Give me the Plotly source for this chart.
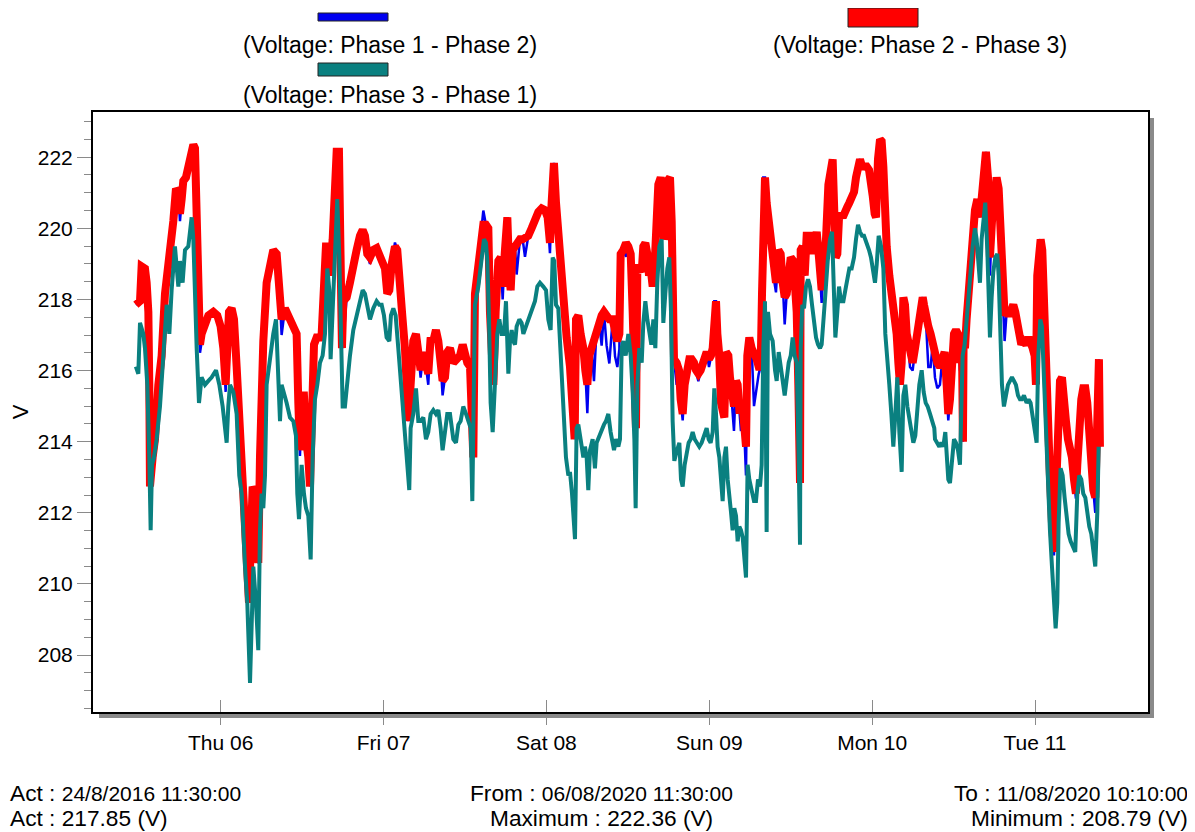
import plotly.graph_objects as go
import pandas as pd

# ---------------- data ----------------
START = pd.Timestamp("2020-08-05 11:30")

series_names = ["(Voltage: Phase 1 - Phase 2)",
                "(Voltage: Phase 2 - Phase 3)",
                "(Voltage: Phase 3 - Phase 1)"]
series_colors = ["#0000F0", "#FF0000", "#0A8080"]

# hours after START, shared by phase 1-2 (blue) and phase 2-3 (red)
red_hours = [
 0.0, 0.61, 0.85, 1.34, 1.59, 1.84, 1.98, 2.08, 2.47, 2.82,
 3.31, 3.8, 4.29, 4.64, 5.03, 5.52, 5.91, 6.26, 6.5, 6.75,
 6.99, 7.38, 7.73, 8.12, 8.47, 8.71, 8.96, 9.2, 9.45, 9.69,
 10.19, 10.68, 11.41, 12.0, 12.49, 12.89, 13.23, 13.48, 13.72, 14.11,
 14.46, 14.85, 15.24, 15.59, 15.93, 16.32, 16.67, 16.91, 17.21, 17.55,
 17.8, 18.04, 18.29, 18.44, 18.78, 19.27, 19.76, 20.25, 20.75, 21.14,
 21.48, 21.97, 22.46,
 23.2, 23.69, 23.94, 24.18, 24.53, 24.77, 25.07, 25.41, 25.66, 25.9,
 26.25, 26.64, 27.13, 27.38, 27.72, 28.01, 28.36, 28.6, 29.0, 29.34,
 29.59, 29.93, 30.08, 30.22, 30.37, 30.57, 31.06, 31.55, 32.04, 32.53,
 33.02, 33.42, 33.76, 34.1, 34.5, 34.99, 35.48, 35.87, 36.36, 36.71,
 37.05, 37.35, 37.69, 38.18, 38.52, 38.92, 39.26, 39.65, 39.9, 40.15,
 40.49, 40.88, 41.28, 41.62, 41.96, 42.36, 42.75, 43.09, 43.44, 43.83,
 44.22, 44.57, 44.91, 45.2, 45.55, 45.89, 46.29,
 46.78, 47.27, 47.76, 48.16, 48.5, 48.84, 49.24, 49.48, 49.73, 49.97,
 50.46, 50.96, 51.2, 51.59, 51.94, 52.18, 52.43, 52.68, 53.02, 53.41,
 53.76, 54.05, 54.39, 54.74, 55.03, 55.23, 55.52, 55.87, 56.11, 56.6,
 57.0, 57.34, 57.83, 58.32, 58.81, 59.31, 59.8, 60.29, 60.68, 61.02,
 61.27, 61.61, 61.91, 62.1, 62.5, 62.99, 63.48, 63.97, 64.36, 64.66,
 64.86, 65.2, 65.54, 65.94, 66.23, 66.53, 66.82, 67.16, 67.51, 67.9,
 68.29, 68.64, 68.98, 69.37, 69.77,
 70.26, 70.61, 70.95, 71.25, 71.44, 71.83, 72.23, 72.57, 72.92, 73.21,
 73.41, 73.7, 73.9, 74.19, 74.54, 74.78, 75.08, 75.37, 75.62, 75.86,
 76.16, 76.45, 76.75, 76.99, 77.34, 77.63, 77.83, 78.07, 78.32, 78.71,
 78.96, 79.1, 79.3, 79.69, 80.04, 80.28, 80.58, 80.87, 81.17, 81.56,
 81.9, 82.25, 82.54, 82.89, 83.23, 83.52, 83.82, 84.11, 84.46, 84.75,
 85.0, 85.24, 85.49, 85.69, 85.93, 86.23, 86.47, 86.72, 86.96, 87.31,
 87.55, 87.85, 88.14, 88.44, 88.68, 88.93, 89.17, 89.42, 89.66, 89.91,
 90.1, 90.4, 90.74, 91.09, 91.48, 91.78, 92.07, 92.27, 92.46, 92.71,
 92.95, 93.25, 93.54, 93.94,
 94.33, 94.68, 95.02, 95.32, 95.61, 95.91, 96.15, 96.5, 96.89, 97.18,
 97.38, 97.62, 97.77, 97.87, 97.97, 98.26, 98.56, 98.85, 99.25, 99.59,
 99.84, 100.08, 100.33, 100.57, 100.82, 101.06, 101.31, 101.7, 102.05, 102.39,
 102.68, 102.88, 103.13, 103.37, 103.62, 103.86, 104.16, 104.5, 104.85, 105.14,
 105.48, 105.83, 106.12, 106.37, 106.71, 107.01, 107.35, 107.69, 108.04, 108.33,
 108.58, 108.87, 109.07, 109.36, 109.66, 109.9, 110.15, 110.39, 110.64, 111.03,
 111.38, 111.62, 111.87, 112.11, 112.36, 112.6, 112.85, 113.1, 113.34, 113.59,
 113.83, 114.08, 114.47, 114.82, 115.06, 115.31, 115.65, 115.95, 116.14, 116.44,
 116.78, 117.12,
 117.41, 117.76, 118.1, 118.49, 118.89, 119.18, 119.48, 119.72, 119.97, 120.26,
 120.56, 120.85, 121.15, 121.44, 121.74, 121.88, 121.98, 122.18, 122.42, 122.72,
 123.01, 123.31, 123.65, 124.0, 124.29, 124.63, 124.98, 125.27, 125.57, 125.86,
 126.16, 126.45, 126.84, 127.14, 127.43, 127.73, 128.02, 128.32, 128.61, 128.91,
 129.3, 129.59, 129.89, 130.18, 130.48, 130.77, 131.17, 131.56, 131.85, 132.15,
 132.44, 132.64, 132.83, 133.08, 133.33, 133.57, 133.82, 134.11, 134.41, 134.7,
 135.0, 135.29, 135.59, 135.88, 136.18, 136.47, 136.76, 137.06, 137.35, 137.65,
 137.94, 138.24, 138.53, 138.73, 139.02, 139.32, 139.61, 139.91, 140.2, 140.5,
 140.79, 141.09, 141.38, 141.68, 141.92, 142.07,
]

red_volts = [
 217.85, 217.95, 218.93, 218.87, 218.47, 217.65, 215.6, 212.74, 213.56, 214.07,
 215.6, 216.42, 218.16, 218.98, 219.39, 220.2, 221.12, 221.02, 220.41, 220.82,
 221.33, 221.43, 221.74, 222.15, 222.35, 222.25, 220.2, 217.85, 216.73, 217.03,
 217.24, 217.55, 217.65, 217.55, 217.24, 216.63, 215.6, 216.42, 217.65, 217.75,
 217.44, 216.11, 214.58, 213.05, 211.51, 210.49, 209.47, 211.0, 212.74, 212.54,
 210.69, 210.59, 213.56, 215.09, 216.83, 218.47, 219.08, 219.39, 219.28, 218.47,
 217.44, 217.75, 217.55,
 217.24, 217.03, 215.09, 213.76, 215.3, 215.3, 214.07, 213.56, 212.74, 214.58,
 216.73, 216.93, 216.93, 217.03, 218.16, 219.49, 219.49, 218.67, 219.69, 221.53,
 222.15, 222.15, 220.72, 218.67, 216.63, 217.95, 218.06, 218.47, 219.08, 219.39,
 219.79, 219.95, 219.79, 219.28, 219.18, 219.39, 219.44, 219.28, 219.08, 218.87,
 218.16, 218.26, 218.98, 219.49, 219.39, 218.67, 217.55, 216.63, 215.6, 214.58,
 215.6, 216.83, 217.03, 216.52, 216.01, 216.52, 216.11, 215.91, 216.93, 216.83,
 217.14, 216.83, 216.22, 215.71, 215.81, 216.52, 216.63,
 216.22, 216.32, 216.42, 216.73, 216.42, 216.22, 216.11, 214.07, 213.56, 218.16,
 219.08, 219.9, 220.1, 220.1, 220.0, 217.65, 216.01, 215.6, 217.65, 219.08,
 219.18, 218.36, 219.39, 220.31, 218.67, 218.26, 219.39, 219.49, 219.59, 219.69,
 219.69, 219.74, 219.79, 220.0, 220.31, 220.46, 220.56, 220.51, 220.31, 219.59,
 220.72, 221.84, 220.72, 220.2, 219.18, 218.16, 216.93, 216.11, 214.78, 214.07,
 217.44, 217.55, 217.03, 216.63, 216.01, 215.6, 216.42, 216.63, 217.03, 217.24,
 217.34, 217.55, 217.65, 217.55, 217.44,
 217.44, 217.03, 216.83, 217.03, 219.28, 219.39, 219.59, 219.49, 219.28, 217.65,
 215.6, 214.38, 218.98, 218.87, 218.77, 219.49, 219.59, 219.28, 218.67, 218.87,
 218.36, 218.98, 220.2, 221.23, 221.43, 221.12, 219.69, 219.9, 221.33, 221.43,
 220.2, 218.16, 216.32, 216.22, 216.01, 215.19, 214.78, 215.6, 216.01, 216.32,
 216.32, 216.22, 216.01, 215.91, 216.01, 216.22, 216.32, 216.52, 216.32, 216.42,
 216.63, 217.95, 217.95, 217.03, 216.52, 215.09, 214.78, 214.68, 216.52, 216.42,
 215.81, 215.19, 214.99, 215.71, 215.6, 214.89, 214.89, 214.99, 214.27, 213.86,
 216.42, 216.93, 216.63, 216.52, 216.32, 216.11, 216.11, 218.16, 221.43, 221.43,
 220.72, 220.2, 219.79, 218.67,
 218.47, 219.39, 219.28, 218.47, 218.06, 218.16, 218.87, 219.18, 219.08, 218.47,
 217.65, 215.6, 212.84, 212.84, 219.39, 219.49, 218.67, 219.79, 219.79, 219.79,
 219.28, 219.69, 219.9, 219.39, 218.67, 218.26, 218.87, 219.69, 221.23, 221.64,
 221.94, 220.72, 219.18, 219.28, 220.31, 220.41, 220.31, 220.41, 220.61, 220.72,
 220.82, 221.02, 221.43, 221.84, 221.94, 221.74, 221.74, 221.74, 221.64, 221.33,
 220.92, 220.41, 220.31, 221.94, 222.5, 222.45, 221.74, 220.41, 219.49, 218.67,
 218.16, 217.65, 217.44, 217.03, 216.22, 215.6, 216.22, 218.06, 217.85, 217.03,
 216.73, 216.42, 216.22, 216.63, 217.03, 217.44, 217.95, 218.06, 217.85, 217.34,
 217.24, 217.03,
 216.73, 216.42, 216.22, 216.11, 216.42, 216.52, 215.6, 214.78, 215.19, 216.42,
 217.03, 217.14, 217.03, 216.22, 216.63, 214.0, 217.03, 216.63, 217.44, 218.26,
 218.87, 219.69, 220.51, 220.82, 220.31, 220.82, 221.53, 222.15, 221.43, 219.18,
 220.2, 220.92, 221.43, 221.12, 219.39, 218.16, 217.55, 217.65, 217.55, 217.65,
 217.85, 217.65, 217.34, 216.83, 216.73, 216.83, 216.73, 216.93, 216.83, 216.63,
 216.42, 215.6, 218.67, 219.59, 219.69, 219.39, 217.65, 216.22, 214.58, 213.05,
 211.72, 210.9, 212.54, 214.78, 215.71, 215.81, 215.4, 214.58, 214.07, 213.86,
 213.56, 212.94, 212.54, 213.35, 214.58, 215.19, 215.5, 215.5, 215.09, 214.07,
 213.25, 212.64, 212.43, 214.58, 216.32, 213.86,
]

blue_volts = [
 217.85, 217.95, 219.0, 218.87, 218.47, 217.65, 215.6, 212.74, 213.56, 214.07,
 215.6, 216.42, 218.16, 218.98, 219.39, 220.2, 221.12, 221.02, 220.2, 220.82,
 221.33, 221.43, 221.74, 222.15, 222.35, 222.25, 220.2, 217.85, 216.5, 216.8,
 217.24, 217.55, 217.65, 217.55, 217.24, 216.63, 215.4, 216.42, 217.65, 217.75,
 217.44, 216.11, 214.58, 213.05, 211.51, 210.49, 209.47, 211.0, 212.74, 212.54,
 210.69, 210.59, 213.56, 214.3, 215.8, 218.47, 219.08, 219.39, 219.28, 218.3,
 217.0, 217.75, 217.55,
 217.24, 217.03, 215.09, 213.6, 215.3, 215.3, 214.07, 213.56, 212.74, 214.58,
 216.73, 216.93, 216.93, 217.03, 218.16, 219.49, 219.49, 218.67, 219.69, 221.53,
 222.15, 222.15, 220.72, 218.67, 216.63, 216.8, 218.06, 218.47, 219.08, 219.39,
 219.79, 219.95, 219.79, 219.28, 219.0, 219.39, 219.44, 219.28, 219.08, 218.87,
 218.16, 218.26, 218.98, 219.6, 219.39, 218.67, 217.55, 216.63, 215.6, 214.58,
 215.6, 216.83, 217.03, 216.52, 215.8, 216.52, 216.11, 215.6, 216.93, 216.83,
 217.14, 216.83, 216.22, 215.3, 215.81, 216.52, 216.3,
 216.22, 216.32, 216.42, 216.73, 216.42, 216.22, 216.0, 214.07, 213.56, 218.16,
 219.08, 219.9, 220.5, 220.1, 220.0, 217.65, 216.01, 215.6, 217.65, 219.08,
 219.18, 218.0, 219.39, 220.31, 218.67, 218.26, 219.39, 219.49, 218.7, 219.69,
 219.69, 219.2, 219.79, 220.0, 220.31, 220.46, 220.56, 220.51, 220.31, 219.3,
 220.72, 221.84, 220.72, 220.2, 219.18, 218.16, 216.93, 216.11, 214.78, 214.07,
 217.44, 217.55, 217.03, 216.63, 216.01, 214.8, 216.42, 216.63, 215.7, 217.24,
 217.34, 216.7, 217.65, 216.7, 216.2,
 217.44, 216.4, 216.1, 216.6, 219.28, 219.39, 219.2, 219.49, 219.28, 217.65,
 215.6, 214.38, 218.98, 218.87, 218.77, 219.49, 219.59, 219.28, 218.67, 218.87,
 218.36, 218.98, 220.2, 221.23, 221.43, 221.12, 219.69, 219.9, 221.33, 221.43,
 220.2, 218.16, 216.32, 215.6, 216.01, 215.19, 214.6, 215.6, 216.01, 216.32,
 216.32, 216.22, 216.01, 215.7, 216.01, 216.22, 216.32, 216.52, 216.1, 216.42,
 216.63, 217.95, 217.95, 217.03, 216.52, 215.09, 214.78, 214.68, 216.52, 216.42,
 215.81, 215.19, 214.3, 215.71, 215.6, 214.89, 214.3, 214.99, 214.27, 213.05,
 216.42, 216.93, 216.63, 215.0, 215.6, 215.9, 216.11, 218.16, 221.43, 221.43,
 220.72, 220.2, 219.79, 218.67,
 218.2, 219.39, 219.28, 218.47, 217.3, 218.16, 218.87, 219.18, 219.08, 218.47,
 217.4, 215.6, 212.84, 212.84, 219.39, 219.49, 218.67, 219.79, 219.79, 219.79,
 219.28, 219.69, 219.4, 219.39, 218.67, 217.9, 218.87, 219.69, 221.23, 221.64,
 221.94, 220.72, 219.18, 219.28, 220.31, 220.41, 220.31, 220.41, 220.61, 220.72,
 220.82, 221.02, 221.43, 221.84, 221.94, 221.74, 221.74, 221.74, 221.64, 221.33,
 220.92, 220.41, 220.31, 221.94, 222.5, 222.45, 221.74, 220.41, 219.49, 218.67,
 218.16, 217.65, 217.44, 217.03, 216.22, 215.6, 216.22, 218.06, 217.85, 217.03,
 216.73, 216.1, 216.0, 216.63, 217.03, 217.44, 217.95, 218.06, 217.85, 217.34,
 216.1, 216.1,
 216.73, 215.8, 215.5, 215.6, 216.42, 216.52, 215.6, 214.6, 215.19, 216.42,
 217.03, 217.14, 217.03, 216.0, 216.63, 214.0, 217.03, 216.63, 217.44, 218.26,
 218.87, 219.69, 220.51, 220.82, 220.31, 220.82, 221.53, 222.15, 221.43, 218.67,
 220.2, 220.92, 221.43, 221.12, 219.39, 218.16, 216.83, 217.65, 217.55, 217.65,
 217.85, 217.65, 217.34, 216.83, 216.73, 216.83, 216.73, 216.93, 216.83, 216.63,
 216.42, 215.6, 218.67, 219.59, 219.69, 219.39, 217.65, 216.22, 214.58, 213.05,
 211.72, 210.8, 212.54, 214.78, 215.71, 215.81, 215.4, 214.58, 214.07, 213.86,
 213.56, 212.94, 212.4, 213.35, 214.58, 215.19, 215.5, 215.5, 215.09, 214.07,
 213.25, 212.64, 212.0, 214.58, 216.32, 213.86,
]

teal_hours = [
 0.0, 0.36, 0.61, 1.1, 1.34, 1.69, 1.98, 2.18, 2.38, 2.67,
 3.06, 3.55, 4.05, 4.54, 4.93, 5.27, 5.76, 6.26, 6.5, 6.89,
 7.24, 7.73, 8.22, 8.47, 8.96, 9.3, 9.69, 10.19, 10.68, 11.17,
 11.81, 12.3, 12.79, 13.13, 13.38, 13.62, 13.87, 14.36, 14.85, 15.24,
 15.59, 16.08, 16.42, 16.82, 17.06, 17.31, 17.7, 18.04, 18.29, 18.53,
 18.78, 19.03, 19.27, 19.76, 20.25, 20.65, 20.89, 21.24, 21.48, 21.83,
 22.22, 22.71,
 23.2, 23.59, 23.79, 24.04, 24.43, 24.77, 25.07, 25.41, 25.76, 26.05,
 26.39, 26.74, 27.13, 27.52, 27.87, 28.21, 28.51, 28.7, 29.0, 29.34,
 29.68, 29.98, 30.22, 30.47, 30.81, 31.16, 31.55, 32.04, 32.53, 33.02,
 33.42, 33.76, 34.1, 34.5, 34.99, 35.48, 35.87, 36.22, 36.56, 36.95,
 37.35, 37.59, 37.94, 38.28, 38.67, 39.02, 39.41, 39.75, 40.0, 40.29,
 40.49, 40.88, 41.28, 41.62, 41.96, 42.36, 42.75, 43.09, 43.44, 43.83,
 44.22, 44.57, 44.91, 45.2, 45.55, 45.89, 46.29,
 46.78, 47.17, 47.52, 47.86, 48.25, 48.65, 48.99, 49.34, 49.58, 49.73,
 49.97, 50.46, 50.96, 51.3, 51.59, 51.79, 52.04, 52.28, 52.58, 52.92,
 53.26, 53.56, 53.9, 54.25, 54.54, 54.89, 55.13, 55.38, 55.62, 55.87,
 56.11, 56.51, 56.85, 57.1, 57.49, 57.83, 58.32, 58.81, 59.16, 59.55,
 60.04, 60.44, 60.78, 61.12, 61.42, 61.66, 61.91, 62.25, 62.5, 62.99,
 63.38, 63.73, 63.97, 64.27, 64.46, 64.71, 64.95, 65.2, 65.54, 65.94,
 66.18, 66.43, 66.67, 66.92, 67.31, 67.65, 67.9, 68.29, 68.64, 68.98,
 69.28, 69.62, 69.96,
 70.46, 70.75, 71.1, 71.34, 71.59, 71.83, 72.18, 72.57, 72.92, 73.21,
 73.46, 73.65, 73.9, 74.19, 74.54, 74.78, 75.08, 75.37, 75.67, 75.96,
 76.26, 76.55, 76.84, 77.14, 77.48, 77.73, 78.02, 78.32, 78.61, 78.86,
 79.1, 79.35, 79.6, 79.84, 80.09, 80.33, 80.58, 80.87, 81.17, 81.46,
 81.76, 82.05, 82.35, 82.64, 83.03, 83.38, 83.77, 84.11, 84.41, 84.7,
 85.0, 85.24, 85.49, 85.73, 85.98, 86.23, 86.47, 86.72, 86.96, 87.21,
 87.45, 87.7, 87.94, 88.19, 88.44, 88.68, 88.93, 89.17, 89.42, 89.66,
 89.91, 90.15, 90.4, 90.74, 91.09, 91.38, 91.68, 91.97, 92.22, 92.46,
 92.71, 92.95, 93.15, 93.45,
 93.84, 94.19, 94.43, 94.73, 95.02, 95.32, 95.61, 95.91, 96.2, 96.5,
 96.79, 97.08, 97.38, 97.67, 97.77, 97.87, 97.97, 98.21, 98.46, 98.75,
 99.05, 99.34, 99.64, 99.93, 100.23, 100.52, 100.82, 101.06, 101.31, 101.65,
 101.95, 102.29, 102.59, 102.83, 103.08, 103.37, 103.62, 103.91, 104.26, 104.55,
 104.85, 105.14, 105.48, 105.83, 106.12, 106.42, 106.71, 107.01, 107.3, 107.69,
 108.04, 108.33, 108.63, 108.92, 109.17, 109.46, 109.81, 110.15, 110.44, 110.74,
 111.03, 111.33, 111.62, 111.92, 112.21, 112.51, 112.85, 113.1, 113.39, 113.69,
 113.98, 114.28, 114.57, 114.86, 115.16, 115.45, 115.8, 116.09, 116.39, 116.68,
 117.03, 117.37, 117.66,
 117.76, 118.1, 118.4, 118.69, 118.98, 119.28, 119.48, 119.72, 119.97, 120.16,
 120.36, 120.56, 120.85, 121.15, 121.44, 121.64, 121.83, 122.13, 122.42, 122.72,
 123.01, 123.31, 123.65, 123.9, 124.14, 124.39, 124.63, 124.88, 125.17, 125.47,
 125.66, 125.86, 126.11, 126.35, 126.65, 126.94, 127.14, 127.38, 127.63, 127.92,
 128.22, 128.51, 128.81, 129.1, 129.4, 129.69, 129.99, 130.28, 130.58, 130.87,
 131.26, 131.56, 131.85, 132.15, 132.44, 132.74, 132.98, 133.28, 133.52, 133.82,
 134.11, 134.41, 134.7, 135.0, 135.29, 135.54, 135.78, 135.98, 136.27, 136.57,
 136.86, 137.16, 137.45, 137.75, 138.14, 138.43, 138.73, 139.02, 139.32, 139.61,
 139.91, 140.2, 140.5, 140.79, 141.09, 141.38, 141.68, 141.88,
]

teal_volts = [
 216.11, 215.91, 217.34, 217.03, 216.63, 215.6, 213.56, 211.51, 213.35, 213.56,
 214.07, 214.99, 216.42, 217.85, 217.03, 218.26, 219.49, 218.36, 219.08, 218.47,
 219.39, 219.49, 220.31, 219.69, 216.63, 215.09, 215.81, 215.6, 215.71, 215.81,
 216.01, 215.6, 214.99, 214.38, 213.97, 214.99, 215.6, 215.4, 214.78, 213.05,
 212.54, 210.49, 209.47, 207.22, 209.47, 210.49, 209.47, 208.14, 211.51, 212.54,
 212.13, 213.05, 215.6, 216.42, 217.03, 217.44, 216.11, 214.58, 215.6, 215.4,
 215.09, 214.68,
 214.58, 214.17, 212.54, 211.82, 213.35, 212.54, 212.13, 211.92, 210.69, 213.56,
 215.19, 215.6, 216.22, 216.42, 217.03, 218.87, 218.26, 216.32, 217.85, 219.69,
 220.82, 219.18, 217.14, 214.99, 214.99, 215.81, 216.42, 217.14, 217.55, 217.85,
 218.26, 218.16, 217.75, 217.44, 217.75, 217.95, 217.85, 217.85, 217.55, 216.93,
 216.83, 217.55, 217.75, 217.55, 216.63, 215.71, 214.99, 214.17, 213.35, 212.64,
 214.38, 214.78, 215.5, 214.58, 214.58, 214.68, 214.07, 214.27, 214.78, 214.89,
 214.78, 214.89, 214.38, 213.76, 214.27, 214.78, 214.78,
 214.07, 213.97, 214.48, 214.58, 214.99, 214.78, 214.58, 214.38, 212.33, 214.58,
 217.85, 218.36, 219.18, 219.69, 219.59, 219.08, 217.44, 215.09, 214.27, 215.81,
 217.03, 217.44, 217.03, 217.03, 217.95, 215.91, 216.83, 217.14, 216.83, 216.73,
 217.24, 217.44, 217.34, 217.03, 217.24, 217.44, 217.65, 217.95, 218.36, 218.47,
 218.36, 218.26, 217.44, 217.14, 219.18, 219.08, 217.85, 217.75, 216.83, 215.09,
 213.56, 213.05, 213.15, 212.54, 211.72, 211.26, 214.38, 214.48, 214.07, 213.56,
 213.86, 213.56, 212.64, 213.76, 214.07, 213.25, 213.97, 214.17, 214.38, 214.48,
 214.58, 214.78, 214.27,
 213.76, 214.07, 213.86, 214.07, 216.63, 216.83, 216.42, 217.03, 216.42, 215.4,
 214.07, 212.13, 215.6, 216.63, 216.22, 217.34, 217.95, 217.44, 217.03, 216.73,
 217.44, 216.63, 218.47, 219.49, 219.69, 217.34, 218.16, 218.87, 219.18, 217.65,
 214.58, 213.46, 213.66, 213.86, 213.97, 212.94, 212.74, 213.35, 213.76, 213.97,
 214.07, 214.27, 214.07, 213.97, 213.86, 213.97, 214.17, 214.38, 214.07, 213.97,
 214.27, 215.5, 214.78, 213.86, 213.56, 212.84, 212.33, 213.56, 213.86, 212.94,
 212.33, 212.02, 211.51, 212.13, 211.92, 211.2, 211.61, 211.51, 211.31, 210.69,
 210.18, 213.35, 212.94, 212.64, 212.33, 212.33, 212.94, 212.74, 213.35, 216.63,
 217.95, 211.46, 217.65, 217.03,
 216.83, 216.01, 215.71, 216.52, 216.01, 215.71, 215.3, 215.91, 216.22, 216.42,
 216.93, 216.42, 216.22, 213.56, 211.1, 211.1, 216.63, 217.85, 217.75, 218.36,
 218.57, 218.36, 217.85, 217.34, 216.93, 216.73, 216.63, 216.73, 217.55, 218.26,
 219.08, 219.69, 219.9, 217.85, 216.93, 217.65, 218.36, 217.95, 217.95, 218.26,
 218.67, 218.87, 218.87, 219.18, 219.69, 220.1, 219.9, 219.79, 219.79, 219.59,
 219.39, 219.18, 218.87, 218.47, 218.98, 219.79, 219.49, 218.87, 217.03, 216.42,
 215.6, 214.78, 213.86, 214.78, 215.81, 214.27, 213.15, 215.3, 215.6, 214.99,
 214.68, 214.27, 213.97, 214.17, 214.78, 215.6, 216.01, 215.4, 215.09, 214.99,
 214.78, 214.58, 214.38,
 214.07, 213.97, 213.86, 213.97, 213.86, 214.27, 213.76, 212.94, 212.84, 213.25,
 213.46, 214.07, 213.97, 213.76, 213.35, 215.6, 216.42, 216.73, 217.44, 218.36,
 218.87, 219.49, 220.0, 219.69, 219.08, 218.47, 219.69, 220.31, 220.72, 219.39,
 218.06, 216.93, 218.06, 218.77, 219.18, 219.28, 218.67, 217.44, 215.6, 214.99,
 215.4, 215.6, 215.71, 215.81, 215.71, 215.6, 215.3, 215.19, 215.19, 215.3,
 215.09, 215.19, 215.09, 214.68, 214.38, 213.97, 216.42, 217.44, 217.24, 215.6,
 214.58, 213.15, 211.51, 210.49, 209.67, 208.75, 209.47, 211.72, 213.25, 213.05,
 212.43, 211.92, 211.41, 211.2, 211.0, 210.9, 212.54, 213.05, 212.94, 212.54,
 212.43, 212.02, 211.61, 211.41, 211.0, 210.49, 212.02, 213.86,
]

day_ticks = ["2020-08-06", "2020-08-07", "2020-08-08",
             "2020-08-09", "2020-08-10", "2020-08-11"]
day_labels = ["Thu 06", "Fri 07", "Sat 08", "Sun 09", "Mon 10", "Tue 11"]
x_range = ["2020-08-05 05:11", "2020-08-11 16:39"]
y_range = [206.4, 223.27]
y_first_tick = 208
y_tick_step = 2

info_left = ["Act : ", "24/8/2016 11:30:00", "Act : 217.85 (V)"]
info_mid = ["From : ", "06/08/2020 11:30:00", "Maximum : 222.36 (V)"]
info_right = ["To : ", "11/08/2020 10:10:00", "Minimum : 208.79 (V)"]

# ---------------- figure ----------------
red_time = START + pd.to_timedelta(red_hours, unit="h")
teal_time = START + pd.to_timedelta(teal_hours, unit="h")

FONT = "Liberation Sans, Arial, Helvetica, sans-serif"
PAGE_W, PAGE_H = 1195, 832
OFF = 8                            # default body margin of the html page
W, H = PAGE_W - OFF, PAGE_H - OFF
L, R, T, B = 93, 1148, 112, 712    # plot frame in page pixels
PW, PH = R - L, B - T


def px(xp):
    return (xp - L) / PW


def py(yp):
    return (B - yp) / PH


fig = go.Figure()
fig.add_trace(go.Scatter(x=red_time, y=blue_volts, mode="lines", name=series_names[0],
                         line=dict(color=series_colors[0], width=2.5), hoverinfo="skip"))
fig.add_trace(go.Scatter(x=red_time, y=red_volts, mode="lines", name=series_names[1],
                         line=dict(color=series_colors[1], width=8), hoverinfo="skip"))
fig.add_trace(go.Scatter(x=teal_time, y=teal_volts, mode="lines", name=series_names[2],
                         line=dict(color=series_colors[2], width=4), hoverinfo="skip"))
# empty trace so the overlay axis (inner day ticks) is drawn
fig.add_trace(go.Scatter(x=[], y=[], xaxis="x2", showlegend=False, hoverinfo="skip"))

shapes = [
    # drop shadow of the plot frame
    dict(type="rect", xref="paper", yref="paper", layer="below",
         x0=px(R), x1=px(R + 6), y0=py(B + 6), y1=py(T + 6),
         fillcolor="#8a8a8a", line=dict(width=0)),
    dict(type="rect", xref="paper", yref="paper", layer="below",
         x0=px(L + 6), x1=px(R + 6), y0=py(B + 6), y1=py(B),
         fillcolor="#8a8a8a", line=dict(width=0)),
    # legend swatches
    dict(type="rect", xref="paper", yref="paper", x0=px(318), x1=px(388),
         y0=py(21), y1=py(13), fillcolor=series_colors[0], line=dict(color="#222", width=1)),
    dict(type="rect", xref="paper", yref="paper", x0=px(848), x1=px(918),
         y0=py(27), y1=py(8), fillcolor=series_colors[1], line=dict(color="#222", width=1)),
    dict(type="rect", xref="paper", yref="paper", x0=px(318), x1=px(388),
         y0=py(76), y1=py(63), fillcolor=series_colors[2], line=dict(color="#222", width=1)),
]

annotations = [
    dict(text=series_names[0], x=px(390), y=py(45)),
    dict(text=series_names[1], x=px(920), y=py(45)),
    dict(text=series_names[2], x=px(390), y=py(95)),
]
for a in annotations:
    a.update(xref="paper", yref="paper", xanchor="center", yanchor="middle",
             showarrow=False, font=dict(size=23, family=FONT, color="black"))


def info(lines, xp, anchor):
    out = []
    out.append(dict(text=lines[0] + "<span style='font-size:21px'>" + lines[1] + "</span>",
                    x=px(xp), y=py(793)))
    out.append(dict(text=lines[2], x=px(xp), y=py(818)))
    for a in out:
        a.update(xref="paper", yref="paper", xanchor=anchor, yanchor="middle",
                 showarrow=False, font=dict(size=22.7, family=FONT, color="black"))
    return out


annotations += info(info_left, 8, "left")
annotations += info(info_mid, 601, "center")
annotations += info(info_right, 1190, "right")

fig.update_layout(
    width=W, height=H,
    margin=dict(l=L - OFF, r=PAGE_W - R, t=T - OFF, b=PAGE_H - B, pad=0),
    paper_bgcolor="white", plot_bgcolor="white",
    showlegend=False,
    font=dict(family=FONT, color="black", size=21),
    shapes=shapes, annotations=annotations,
    xaxis=dict(type="date", range=x_range, tickmode="array", tickvals=day_ticks,
               ticktext=day_labels, ticks="outside", ticklen=11, tickwidth=1,
               tickcolor="#8a8a8a", showgrid=False, zeroline=False,
               showline=True, linecolor="black", linewidth=2, mirror=True,
               tickfont=dict(size=21, family=FONT, color="black")),
    xaxis2=dict(type="date", overlaying="x", matches="x", range=x_range,
                tickmode="array", tickvals=day_ticks, ticks="inside", ticklen=12,
                tickwidth=1, tickcolor="#8a8a8a", showticklabels=False,
                showgrid=False, zeroline=False, showline=False, anchor="y"),
    yaxis=dict(range=y_range, tickmode="linear", tick0=y_first_tick, dtick=y_tick_step,
               ticks="outside", ticklen=14, tickwidth=1, tickcolor="#8a8a8a",
               minor=dict(dtick=y_tick_step / 4, tick0=y_first_tick, ticks="outside",
                          ticklen=7, tickcolor="#8a8a8a", showgrid=False),
               showgrid=False, zeroline=False,
               showline=True, linecolor="black", linewidth=2, mirror=True,
               tickfont=dict(size=21, family=FONT, color="black"),
               title=dict(text="V", standoff=3, font=dict(size=22, family=FONT, color="black"))),
)

fig.write_html("out.html")
